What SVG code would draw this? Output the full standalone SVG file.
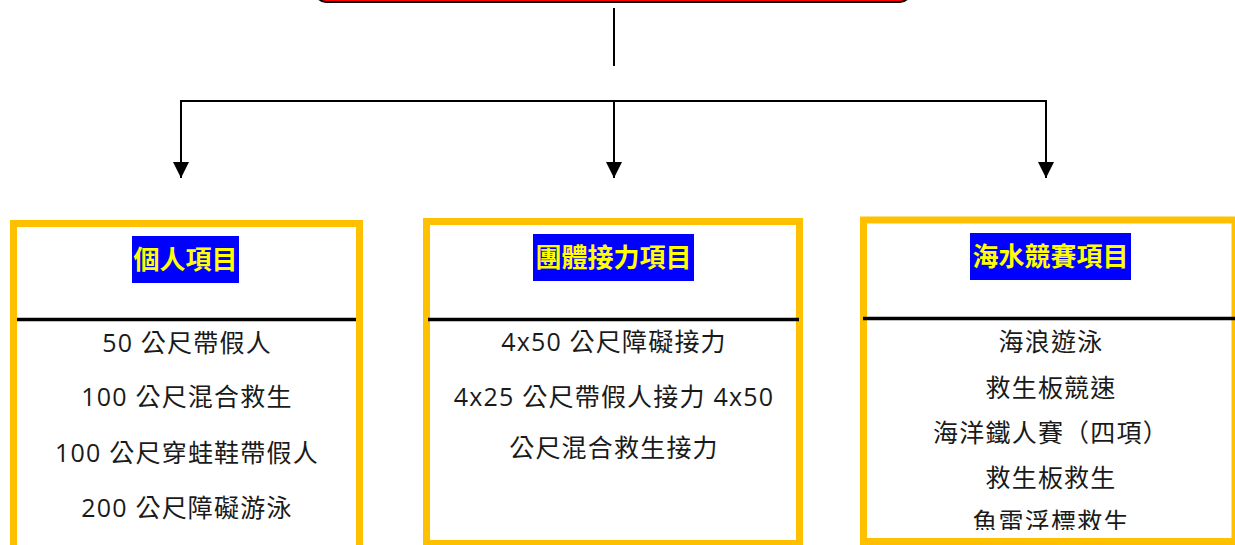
<svg xmlns="http://www.w3.org/2000/svg" width="1235" height="545" viewBox="0 0 1235 545">
<defs>
<style>
.box{fill:#fff;stroke:#FFC000;stroke-width:7}
.sep{stroke:#000;stroke-width:3.5}
.hl{fill:#0000FF}
.title{font-family:"Noto Sans CJK TC","Noto Sans CJK SC",sans-serif;font-size:26px;font-weight:bold;fill:#FFFF00;text-anchor:middle}
.body{font-family:"Open Sans","Noto Sans CJK TC","Noto Sans CJK SC",sans-serif;font-size:25px;fill:#1a1a1a;text-anchor:middle;letter-spacing:1.2px}
.ln{stroke:#000;stroke-width:2;fill:none}
</style>
<marker id="arr" viewBox="0 0 16 16" refX="16" refY="8" markerWidth="16" markerHeight="16" markerUnits="userSpaceOnUse" orient="auto">
<path d="M0,0 L16,8 L0,16 Z" fill="#000"/>
</marker>
<clipPath id="c3"><rect x="860" y="217" width="375" height="313"/></clipPath>
</defs>
<g id="top">
<rect x="316" y="-40" width="594" height="42" rx="10" fill="#FF0000" stroke="#000" stroke-width="2"/>
</g>
<g id="connectors">
<line class="ln" x1="614" y1="8" x2="614" y2="66" stroke-width="1.5"/>
<line class="ln" x1="180" y1="101" x2="1047" y2="101"/>
<line class="ln" x1="181" y1="101" x2="181" y2="178" marker-end="url(#arr)"/>
<line class="ln" x1="614" y1="101" x2="614" y2="178" marker-end="url(#arr)"/>
<line class="ln" x1="1046" y1="101" x2="1046" y2="178" marker-end="url(#arr)"/>
</g>
<g id="box1">
<rect class="box" x="13.5" y="223.5" width="346" height="325"/>
<line class="sep" x1="17" y1="319.5" x2="356" y2="319.5"/>
<rect class="hl" x="132" y="236" width="107" height="47"/>
<text class="title" x="185.5" y="269">個人項目</text>
<text class="body" x="187" y="352">50 公尺帶假人</text>
<text class="body" x="187" y="406">100 公尺混合救生</text>
<text class="body" x="187" y="462">100 公尺穿蛙鞋帶假人</text>
<text class="body" x="187" y="517">200 公尺障礙游泳</text>
</g>
<g id="box2">
<rect class="box" x="426.5" y="221.5" width="373" height="322"/>
<line class="sep" x1="428" y1="319.5" x2="799" y2="319.5"/>
<rect class="hl" x="533" y="234" width="161" height="47"/>
<text class="title" x="613.5" y="267">團體接力項目</text>
<text class="body" x="614" y="351">4x50 公尺障礙接力</text>
<text class="body" x="614" y="406">4x25 公尺帶假人接力 4x50</text>
<text class="body" x="614" y="457">公尺混合救生接力</text>
</g>
<g id="box3">
<rect class="box" x="863.5" y="220" width="371.5" height="321.5"/>
<line class="sep" x1="863" y1="318.5" x2="1235" y2="318.5"/>
<rect class="hl" x="970" y="233" width="161" height="47"/>
<text class="title" x="1050.5" y="266">海水競賽項目</text>
<g clip-path="url(#c3)">
<text class="body" x="1051" y="351">海浪遊泳</text>
<text class="body" x="1051" y="397">救生板競速</text>
<text class="body" x="1051" y="442">海洋鐵人賽（四項）</text>
<text class="body" x="1051" y="487">救生板救生</text>
<text class="body" x="1051" y="531">魚雷浮標救生</text>
</g>
</g>
</svg>
